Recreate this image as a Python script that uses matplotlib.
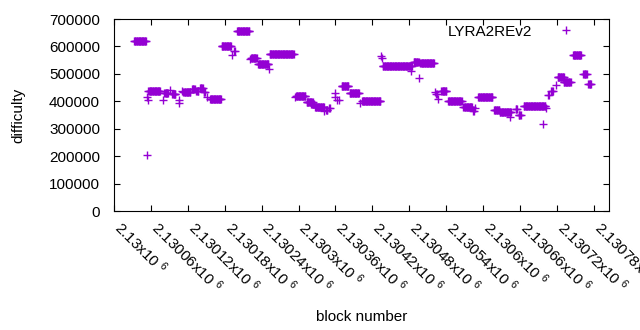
import numpy as np
import matplotlib
matplotlib.use('Agg')
import matplotlib.pyplot as plt
from matplotlib.transforms import ScaledTranslation

plt.rcParams['font.family'] = ['Liberation Sans', 'DejaVu Sans']
plt.rcParams['mathtext.default'] = 'regular'

# difficulty runs: block offset from 2130000 (first, last) and difficulty
run_start = [33, 53, 54, 55, 56, 79, 82, 91, 95, 105, 106, 110, 113, 127, 134, 140, 146, 151,
             156, 175, 192, 195, 200, 221, 223, 234, 252, 253, 295, 296, 313, 321, 327, 342,
             345, 350, 359, 360, 362, 365, 370, 383, 400, 403, 434, 435, 437, 482, 487, 496,
             498, 522, 524, 527, 532, 543, 568, 584, 587, 591, 593, 618, 627, 644, 653, 658,
             666, 698, 702, 706, 711, 718, 721, 731, 746, 763, 771]
run_end = [52, 53, 54, 55, 75, 79, 88, 91, 100, 105, 106, 110, 124, 131, 137, 144, 148, 151,
           174, 190, 192, 196, 220, 221, 232, 251, 252, 292, 295, 311, 323, 325, 341, 342,
           347, 351, 359, 360, 362, 365, 381, 398, 400, 433, 434, 435, 484, 482, 495, 496,
           520, 522, 525, 527, 540, 565, 582, 585, 587, 591, 615, 626, 645, 644, 655, 661,
           701, 698, 702, 707, 713, 718, 731, 742, 759, 768, 775]
run_diff = [620000, 203000, 414000, 405000, 437000, 405000, 431000, 441000, 426000, 405000,
            395000, 439000, 433000, 445000, 439000, 449000, 435000, 414000, 407000, 601000,
            569000, 583000, 655000, 553000, 557000, 535000, 518000, 571000, 416000, 420000,
            398000, 389000, 380000, 364000, 370000, 377000, 431000, 414000, 405000, 403000,
            455000, 429000, 395000, 401000, 565000, 558000, 530000, 512000, 542000, 484000,
            538000, 435000, 427000, 410000, 439000, 402000, 380000, 365000, 377000, 417000,
            414000, 370000, 361000, 344000, 372000, 350000, 383000, 317000, 374000, 422000,
            436000, 458000, 487000, 471000, 568000, 499000, 463000]

base_block = 2130000
xtick_vals = [2130000 + 60 * k for k in range(14)]
xtick_labels = ['2.13', '2.13006', '2.13012', '2.13018', '2.13024', '2.1303', '2.13036',
                '2.13042', '2.13048', '2.13054', '2.1306', '2.13066', '2.13072', '2.13078']
ytick_vals = [0, 100000, 200000, 300000, 400000, 500000, 600000, 700000]

blocks = []
diffs = []
for s, e, d in zip(run_start, run_end, run_diff):
    for b in range(s, e + 1):
        blocks.append(base_block + b)
        diffs.append(d)

fig = plt.figure(figsize=(6.4, 3.3), dpi=100)
ax = fig.add_axes([0.178, 0.3606, 0.774, 0.5818])

ax.plot(blocks, diffs, '+', color='#9400d3', ms=5.2, mew=1.0, label='LYRA2REv2')

ax.set_xlim(2130000, 2130805)
ax.set_ylim(0, 700000)
ax.set_yticks(ytick_vals)
ax.set_yticklabels([str(v) for v in ytick_vals])
ax.set_xticks(xtick_vals)
ax.set_xticklabels([lbl + 'x10 $^{6}$' for lbl in xtick_labels], rotation=-45,
                   ha='left', va='top', rotation_mode='anchor')

ax.tick_params(direction='in', length=4, width=0.8, top=True, right=True,
               labelsize=11, colors='black')
ax.tick_params(axis='x', pad=5)
ax.tick_params(axis='y', pad=10)
for sp in ax.spines.values():
    sp.set_linewidth(0.8)

# nudge rotated labels so they start at the tick, like gnuplot
shift = ScaledTranslation(0.10, 0.0, fig.dpi_scale_trans)
for t in ax.get_xticklabels():
    t.set_transform(t.get_transform() + shift)

ax.set_xlabel('block number', fontsize=11, labelpad=10)
ax.set_ylabel('difficulty', fontsize=11, labelpad=17)

ax.legend(loc='upper right', bbox_to_anchor=(0.958, 1.01), frameon=False,
          markerfirst=False, fontsize=11, borderpad=0, handletextpad=1.22,
          handlelength=2.0)

fig.savefig('out.png', dpi=100)
